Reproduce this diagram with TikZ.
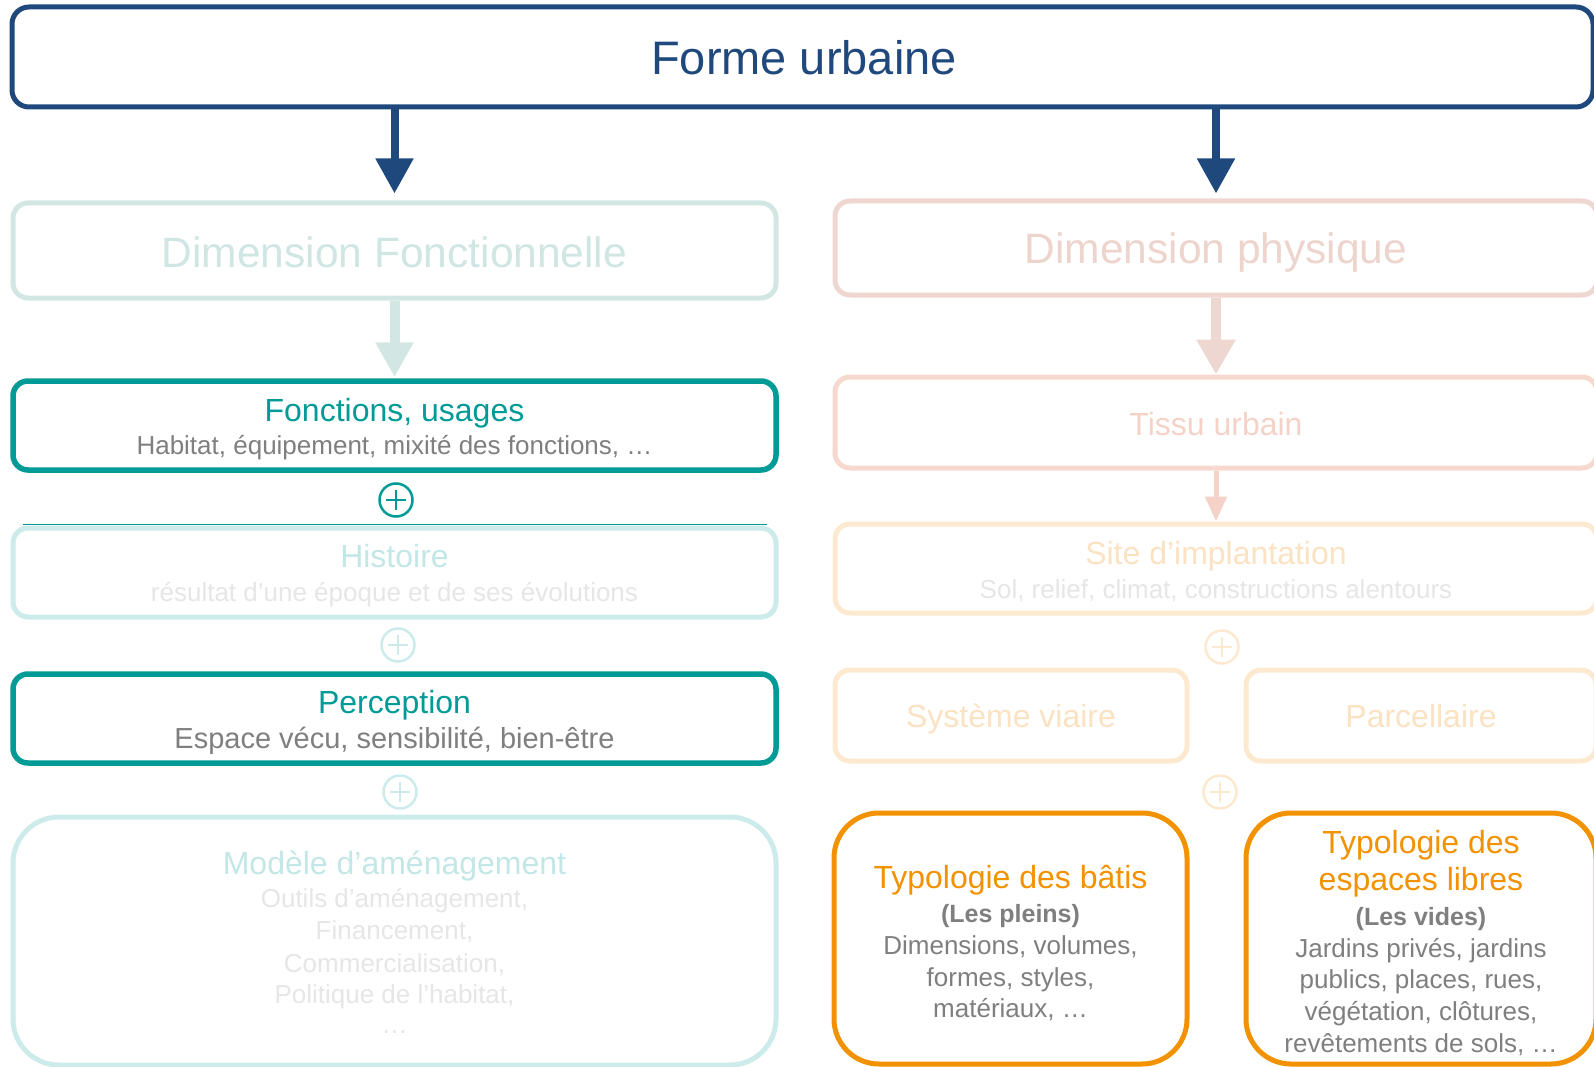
\documentclass[tikz,border=0pt]{standalone}
\usepackage{fontspec}
\setmainfont{Liberation Sans}
\usetikzlibrary{arrows.meta,calc}
\definecolor{dblue}{HTML}{1F497D}
\definecolor{teal}{HTML}{009B97}
\definecolor{dimFc}{HTML}{D2E7E4}
\definecolor{dimFt}{HTML}{CFE6E3}
\definecolor{lteal}{HTML}{CDEBEB}
\definecolor{ltealt}{HTML}{C3E7E7}
\definecolor{greytx}{HTML}{7F7F7F}
\definecolor{lgrey}{HTML}{E6E6E6}
\definecolor{dimPc}{HTML}{EED7D1}
\definecolor{dimPt}{HTML}{EDD4CD}
\definecolor{tisc}{HTML}{F6D8CF}
\definecolor{tist}{HTML}{F5D2C7}
\definecolor{lorange}{HTML}{FCE9CF}
\definecolor{lorangt}{HTML}{FBE2C2}
\definecolor{orange}{HTML}{F39200}
\newcommand\setfs[1]{\fontsize{#1}{#1}\selectfont}
\tikzset{
  box/.style={draw, rounded corners=15pt, line width=5pt, fill=white, inner sep=0pt},
  txt/.style={inner sep=0pt, anchor=base},
  plusc/.style={circle, draw=#1, line width=2.5pt, minimum size=33pt, inner sep=0pt,
    path picture={\draw[#1, line width=2.5pt]
      ([xshift=-10pt]path picture bounding box.center) -- ([xshift=10pt]path picture bounding box.center)
      ([yshift=-10pt]path picture bounding box.center) -- ([yshift=10pt]path picture bounding box.center);}},
}
\begin{document}
\begin{tikzpicture}[x=1pt,y=-1pt]
\useasboundingbox (0,0) rectangle (1594,1067);
\clip (0,0) rectangle (1594,1067);

\node[box, draw=dblue, rounded corners=17pt, minimum width=1581pt, minimum height=100pt] (fu) at (802.5,57) {};
\node[box, draw=dimFc, minimum width=763pt, minimum height=95pt] (dimF) at (394.5,250.5) {};
\node[box, draw=dimPc, minimum width=762pt, minimum height=94pt] (dimP) at (1216,248) {};
\node[box, draw=teal, line width=5.5pt, minimum width=763pt, minimum height=89pt] (fon) at (394.5,425.5) {};
\node[box, draw=tisc, minimum width=762pt, minimum height=91pt] (tis) at (1216,422.5) {};
\node[box, draw=lteal, minimum width=763pt, minimum height=89pt] (his) at (394.5,572.5) {};
\node[box, draw=lorange, minimum width=762pt, minimum height=89pt] (site) at (1216,568.5) {};
\node[box, draw=teal, line width=5.5pt, minimum width=763pt, minimum height=89pt] (per) at (394.5,718.5) {};
\node[box, draw=lorange, minimum width=352pt, minimum height=91pt] (sys) at (1011,715.5) {};
\node[box, draw=lorange, minimum width=350pt, minimum height=91pt] (par) at (1421,715.5) {};
\node[box, draw=lteal, rounded corners=46pt, minimum width=763pt, minimum height=248pt] (mod) at (394.5,941) {};
\node[box, draw=orange, rounded corners=45pt, minimum width=353pt, minimum height=251pt] (bat) at (1010.5,938.5) {};
\node[box, draw=orange, rounded corners=45pt, minimum width=350pt, minimum height=251pt] (esp) at (1421,938.5) {};

% connectors
\draw[dblue, line width=8pt, -{Triangle[width=36pt,length=35pt]}, shorten >=7pt] (fu.south -| dimF.north) -- (dimF.north);
\draw[dblue, line width=8pt, -{Triangle[width=36pt,length=35pt]}, shorten >=5pt] (fu.south -| dimP.north) -- (dimP.north);
\draw[dimFc, line width=10pt, -{Triangle[width=36pt,length=35pt]}, shorten >=1pt] (dimF.south) -- (fon.north);
\draw[dimPc, line width=10pt, -{Triangle[width=37pt,length=35pt]}, shorten >=0pt] (dimP.south) -- (tis.north);
\draw[tist, line width=5pt, -{Triangle[width=21pt,length=25pt]}, shorten >=0pt] (tis.south) -- (site.north);
\draw[teal, line width=1.2pt] ([xshift=12pt,yshift=1pt]his.north west) -- ([xshift=-12pt,yshift=1pt]his.north east);

% plus signs
\node[plusc=teal] (pl1) at (396,500) {};
\node[plusc=lteal] (pl2) at (398,645) {};
\node[plusc=lteal] (pl3) at (400,792) {};
\node[plusc=lorange] (pr1) at (1222,647) {};
\node[plusc=lorange] (pr2) at (1220,792) {};

% texts
\node[txt, text=dblue, font=\setfs{47}] (fuT) at (804,75) {Forme urbaine};
\node[txt, text=dimFt, font=\setfs{42.5}] (dimFT) at (394.5,267) {Dimension Fonctionnelle};
\node[txt, text=dimPt, font=\setfs{42.5}] (dimPT) at (1216,263) {Dimension physique};
\node[txt, text=teal, font=\setfs{32}] (fonT) at (394.5,421) {Fonctions, usages};
\node[txt, text=greytx, font=\setfs{26}] (fonS) at (394.5,454) {Habitat, équipement, mixité des fonctions, …};
\node[txt, text=tist, font=\setfs{32}] (tisT) at (1216,435) {Tissu urbain};
\node[txt, text=ltealt, font=\setfs{32}] (hisT) at (394.5,567) {Histoire};
\node[txt, text=lgrey, font=\setfs{26}] (hisS) at (394.5,601) {résultat d’une époque et de ses évolutions};
\node[txt, text=lorangt, font=\setfs{32}] (siteT) at (1216,564) {Site d’implantation};
\node[txt, text=lgrey, font=\setfs{26}] (siteS) at (1216,598) {Sol, relief, climat, constructions alentours};
\node[txt, text=teal, font=\setfs{32}] (perT) at (394.5,713) {Perception};
\node[txt, text=greytx, font=\setfs{29}] (perS) at (394.5,748) {Espace vécu, sensibilité, bien-être};
\node[txt, text=lorangt, font=\setfs{32}] (sysT) at (1011,727) {Système viaire};
\node[txt, text=lorangt, font=\setfs{32}] (parT) at (1421,727) {Parcellaire};
\node[txt, text=ltealt, font=\setfs{32}] (modT) at (394.5,874) {Modèle d’aménagement};
\node[txt, text=lgrey, font=\setfs{26}] (modS1) at (394.5,907) {Outils d’aménagement,};
\node[txt, text=lgrey, font=\setfs{26}] (modS2) at (394.5,939) {Financement,};
\node[txt, text=lgrey, font=\setfs{26}] (modS3) at (394.5,972) {Commercialisation,};
\node[txt, text=lgrey, font=\setfs{26}] (modS4) at (394.5,1003) {Politique de l’habitat,};
\node[txt, text=lgrey, font=\setfs{26}] (modS5) at (394.5,1033) {…};
\node[txt, text=orange, font=\setfs{32}] (batT) at (1010.5,888) {Typologie des bâtis};
\node[txt, text=greytx, font=\bfseries\setfs{25}] (batB) at (1010.5,922) {(Les pleins)};
\node[txt, text=greytx, font=\setfs{26}] (batS1) at (1010.5,954) {Dimensions, volumes,};
\node[txt, text=greytx, font=\setfs{26}] (batS2) at (1010.5,986) {formes, styles,};
\node[txt, text=greytx, font=\setfs{26}] (batS3) at (1010.5,1017) {matériaux, …};
\node[txt, text=orange, font=\setfs{32}] (espT1) at (1421,853) {Typologie des};
\node[txt, text=orange, font=\setfs{32}] (espT2) at (1421,890) {espaces libres};
\node[txt, text=greytx, font=\bfseries\setfs{25}] (espB) at (1421,925) {(Les vides)};
\node[txt, text=greytx, font=\setfs{26}] (espS1) at (1421,957) {Jardins privés, jardins};
\node[txt, text=greytx, font=\setfs{26}] (espS2) at (1421,988) {publics, places, rues,};
\node[txt, text=greytx, font=\setfs{26}] (espS3) at (1421,1020) {végétation, clôtures,};
\node[txt, text=greytx, font=\setfs{26}] (espS4) at (1421,1052) {revêtements de sols, …};
\end{tikzpicture}
\end{document}
